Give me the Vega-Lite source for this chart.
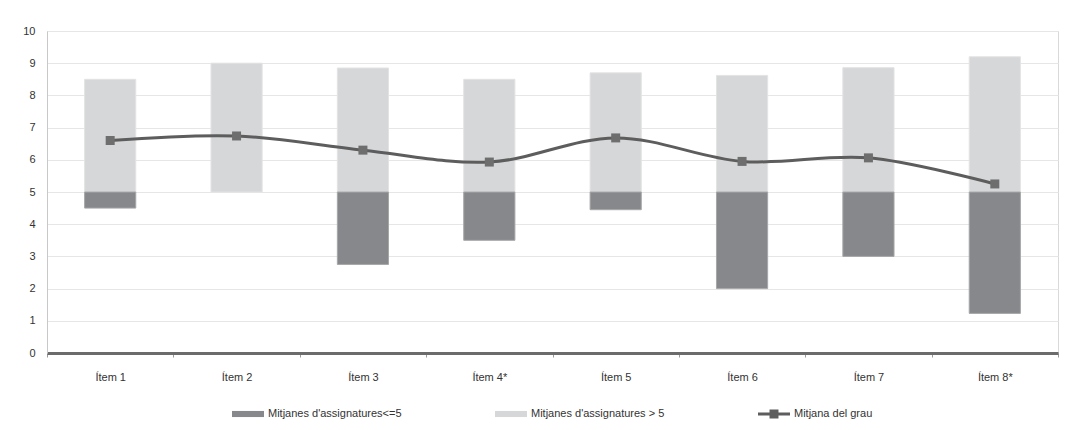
{
  "$schema": "https://vega.github.io/schema/vega-lite/v6.json",
  "width": 1011,
  "height": 322,
  "autosize": {"type": "none"},
  "padding": {"left": 47, "top": 31, "right": 7, "bottom": 77},
  "background": "white",
  "config": {
    "font": "Liberation Sans",
    "view": {"stroke": "#d9d9d9", "strokeWidth": 1},
    "axis": {"labelFont": "Liberation Sans", "labelFontSize": 11, "labelColor": "#333333"}
  },
  "datasets": {
    "barres": [
      {"item": "Ítem 1", "serie": "Mitjanes d'assignatures > 5", "valor": 8.5},
      {"item": "Ítem 2", "serie": "Mitjanes d'assignatures > 5", "valor": 9.0},
      {"item": "Ítem 3", "serie": "Mitjanes d'assignatures > 5", "valor": 8.85},
      {"item": "Ítem 4*", "serie": "Mitjanes d'assignatures > 5", "valor": 8.5},
      {"item": "Ítem 5", "serie": "Mitjanes d'assignatures > 5", "valor": 8.7},
      {"item": "Ítem 6", "serie": "Mitjanes d'assignatures > 5", "valor": 8.62},
      {"item": "Ítem 7", "serie": "Mitjanes d'assignatures > 5", "valor": 8.86},
      {"item": "Ítem 8*", "serie": "Mitjanes d'assignatures > 5", "valor": 9.2},
      {"item": "Ítem 1", "serie": "Mitjanes d'assignatures<=5", "valor": 4.5},
      {"item": "Ítem 3", "serie": "Mitjanes d'assignatures<=5", "valor": 2.75},
      {"item": "Ítem 4*", "serie": "Mitjanes d'assignatures<=5", "valor": 3.5},
      {"item": "Ítem 5", "serie": "Mitjanes d'assignatures<=5", "valor": 4.45},
      {"item": "Ítem 6", "serie": "Mitjanes d'assignatures<=5", "valor": 2.0},
      {"item": "Ítem 7", "serie": "Mitjanes d'assignatures<=5", "valor": 3.0},
      {"item": "Ítem 8*", "serie": "Mitjanes d'assignatures<=5", "valor": 1.23}
    ],
    "mitjana": [
      {"item": "Ítem 1", "serie": "Mitjana del grau", "valor": 6.6},
      {"item": "Ítem 2", "serie": "Mitjana del grau", "valor": 6.74},
      {"item": "Ítem 3", "serie": "Mitjana del grau", "valor": 6.3},
      {"item": "Ítem 4*", "serie": "Mitjana del grau", "valor": 5.93},
      {"item": "Ítem 5", "serie": "Mitjana del grau", "valor": 6.68},
      {"item": "Ítem 6", "serie": "Mitjana del grau", "valor": 5.95},
      {"item": "Ítem 7", "serie": "Mitjana del grau", "valor": 6.06},
      {"item": "Ítem 8*", "serie": "Mitjana del grau", "valor": 5.25}
    ]
  },
  "encoding": {
    "x": {
      "field": "item", "type": "nominal", "sort": null,
      "scale": {"domain": ["Ítem 1", "Ítem 2", "Ítem 3", "Ítem 4*", "Ítem 5", "Ítem 6", "Ítem 7", "Ítem 8*"], "paddingInner": 0, "paddingOuter": 0},
      "axis": {
        "title": null, "labelAngle": 0, "labelPadding": 14,
        "domainColor": "#6b6b6b", "domainWidth": 3,
        "ticks": true, "tickBand": "extent", "tickColor": "#9a9a9a", "tickSize": 4, "tickWidth": 1,
        "grid": false
      }
    },
    "y": {
      "field": "valor", "type": "quantitative",
      "scale": {"domain": [0, 10], "nice": false, "zero": true},
      "axis": {
        "title": null, "tickCount": 11, "tickMinStep": 1, "labelOverlap": false,
        "domainColor": "#c8c8c8", "domainWidth": 1, "ticks": false, "labelPadding": 12,
        "gridColor": "#e6e6e6", "gridWidth": 1
      }
    }
  },
  "layer": [
    {
      "data": {"name": "barres"},
      "mark": {"type": "bar", "strokeWidth": 1, "width": {"band": 0.405}},
      "encoding": {
        "y2": {"datum": 5},
        "color": {
          "field": "serie", "type": "nominal",
          "scale": {
            "domain": ["Mitjanes d'assignatures<=5", "Mitjanes d'assignatures > 5", "Mitjana del grau"],
            "range": ["#87888b", "#d6d7d9", "#5d5d5d"]
          },
          "legend": {
            "title": null, "orient": "none", "legendX": 185, "legendY": 367,
            "direction": "horizontal", "columns": 3, "gridAlign": "all", "columnPadding": 93,
            "symbolSize": 1024, "labelOffset": 4, "labelFontSize": 11, "labelColor": "#333333",
            "labelFont": "Liberation Sans", "labelLimit": 300,
            "encode": {
              "symbols": {
                "update": {
                  "shape": {"signal": "datum.value === 'Mitjana del grau' ? 'M-1,-0.1H1V0.1H-1Z M-0.28,-0.28H0.28V0.28H-0.28Z' : 'M-1,-0.19H1V0.19H-1Z'"},
                  "fill": {"scale": "color", "field": "value"},
                  "fillOpacity": {"value": 1},
                  "strokeWidth": {"value": 0}
                }
              }
            }
          }
        },
        "stroke": {
          "field": "serie", "type": "nominal",
          "scale": {
            "domain": ["Mitjanes d'assignatures<=5", "Mitjanes d'assignatures > 5"],
            "range": ["#a6a7a9", "#e3e3e4"]
          },
          "legend": null
        }
      }
    },
    {
      "data": {"name": "mitjana"},
      "mark": {"type": "line", "interpolate": "cardinal", "strokeWidth": 3, "color": "#5d5d5d"},
      "encoding": {}
    },
    {
      "data": {"name": "mitjana"},
      "mark": {"type": "square", "size": 81, "filled": true, "opacity": 1, "color": "#6e6e6e"},
      "encoding": {}
    }
  ]
}
